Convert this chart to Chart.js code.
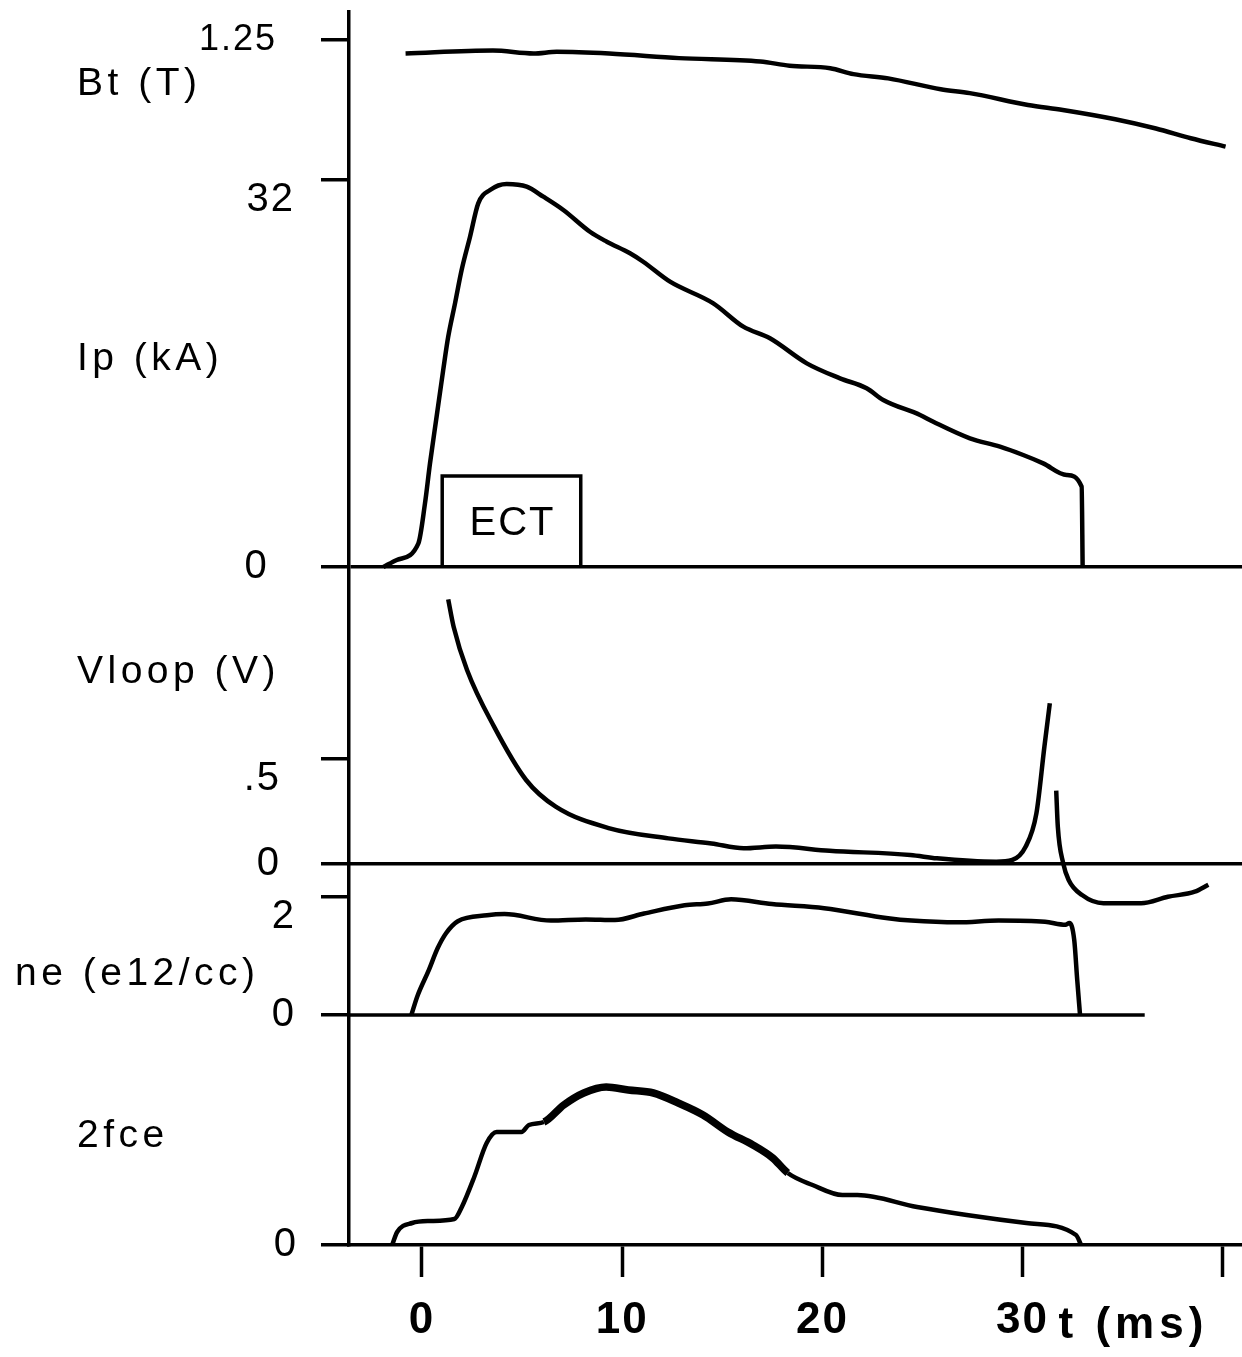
<!DOCTYPE html>
<html>
<head>
<meta charset="utf-8">
<script src="https://cdn.jsdelivr.net/npm/chart.js@4.4.1/dist/chart.umd.min.js"></script>
<style>
  html, body { margin: 0; padding: 0; background: #ffffff; }
  #wrap { width: 1242px; height: 1357px; }
</style>
</head>
<body>
<div id="wrap"><canvas id="c" width="1242" height="1357"></canvas></div>
<script>
// ---- data (time in ms) ----
const tBt = [-0.82, 3.54, 5.57, 6.73, 9.35, 12.84, 16.90, 18.36, 20.39, 21.55, 23.29, 25.91, 27.36, 30.27, 32.01, 34.63, 36.66, 38.40, 40.14];
const bt  = [1.218, 1.225, 1.218, 1.222, 1.218, 1.207, 1.199, 1.189, 1.183, 1.169, 1.159, 1.133, 1.124, 1.096, 1.084, 1.062, 1.040, 1.017, 0.997];

const tIp = [-1.93, -1.26, -0.18, 0.15, 0.40, 0.73, 1.06, 1.31, 1.65, 1.98, 2.40, 2.81, 3.40, 4.23, 5.23, 6.06, 7.06, 8.39, 9.23, 10.39, 11.05, 12.39, 14.55, 16.05, 17.38, 19.22, 20.88, 22.21, 23.04, 24.88, 25.54, 27.37, 28.87, 30.03, 31.03, 32.20, 32.95, 33.00];
const ip  = [0, 0.58, 1.96, 5.27, 8.57, 12.43, 16.29, 19.04, 21.80, 24.56, 27.31, 30.07, 31.17, 31.67, 31.45, 30.62, 29.52, 27.72, 26.90, 25.94, 25.24, 23.59, 21.80, 19.87, 18.91, 16.84, 15.60, 14.78, 13.81, 12.57, 12.01, 10.64, 9.95, 9.26, 8.57, 7.61, 6.64, 0];

const tV    = [1.31, 1.58, 2.25, 3.60, 5.20, 6.68, 9.37, 12.31, 14.46, 16.07, 17.68, 20.36, 24.39, 25.72, 28.68, 29.48, 30.15, 30.69, 31.09, 31.36, 31.50, 31.68, 31.76, 32.03, 32.30, 32.97, 34.04, 35.92, 37.26, 38.60, 39.28];
const vloop = [1.260, 1.130, 0.924, 0.654, 0.400, 0.273, 0.170, 0.122, 0.098, 0.075, 0.083, 0.063, 0.043, 0.027, 0.011, 0.019, 0.082, 0.241, 0.559, 0.765, null, 0.349, 0.178, 0.003, -0.076, -0.148, -0.187, -0.187, -0.156, -0.132, -0.099];

const tNe = [-0.53, -0.24, 0.34, 0.78, 1.21, 1.79, 3.25, 4.12, 6.44, 8.18, 9.64, 11.09, 13.12, 14.28, 15.44, 17.48, 20.09, 23.28, 24.45, 26.77, 28.80, 31.12, 32.14, 32.34, 32.58, 32.73, 32.87];
const ne  = [0, 0.31, 0.76, 1.13, 1.39, 1.59, 1.69, 1.71, 1.60, 1.62, 1.61, 1.72, 1.86, 1.89, 1.96, 1.88, 1.81, 1.64, 1.60, 1.57, 1.60, 1.58, 1.53, 1.56, 1.27, 0.59, 0];
const neBaseT = [-3.6, 36.1];
const neBaseV = [0, 0];

const tF  = [-1.49, -1.24, -0.49, 0.37, 1.62, 1.99, 2.61, 3.23, 3.73, 4.97, 5.34, 6.09, 7.08, 8.08, 9.20, 10.31, 11.56, 12.80, 14.04, 15.28, 16.53, 17.52, 18.27, 19.51, 21.00, 21.75, 24.73, 27.21, 30.19, 32.67, 32.92];
const fce = [0, 0.13, 0.22, 0.24, 0.26, 0.38, 0.68, 1.02, 1.13, 1.13, 1.20, 1.23, 1.40, 1.52, 1.58, 1.55, 1.52, 1.42, 1.30, 1.13, 1.00, 0.87, 0.72, 0.60, 0.50, 0.50, 0.38, 0.30, 0.22, 0.10, 0];

const ectT = [1.01, 1.01, 7.93, 7.93];
const ectI = [0, 7.52, 7.52, 0];

const xTicks = [0, 10, 20, 30, 40];
const xTickLabels = ['0', '10', '20', '30', ''];
const btTicks = [1.25];   const btLabels = ['1.25'];
const ipTicks = [0, 32];  const ipLabels = ['0\u00a0\u00a0', ['', '32']];
const vTicks  = [0, 0.5]; const vLabels  = ['0', ['', '.5']];
const neTicks = [0, 2];   const neLabels = ['0', ['', '2']];
const fTicks  = [0];      const fLabels  = ['0'];

// ---- helpers ----
const pts = (xs, ys) => xs.map((x, i) => ({ x: x, y: ys[i] }));
const FONT = "'Liberation Sans', Arial, Helvetica, sans-serif";

function yAxis(min, max, ticks, labels, pad, size, lh, zeroLine, border) {
  return {
    type: 'linear', position: 'left', display: true, min: min, max: max,
    afterBuildTicks: s => { s.ticks = ticks.map(v => ({ value: v })); },
    afterFit: s => {
      s.width = 0; s.paddingTop = 0; s.paddingBottom = 0;
      s._computeLabelArea = () => null;   // let labels draw left of the zero-width axis box
    },
    ticks: {
      autoSkip: false, padding: pad, color: '#000',
      font: { family: FONT, size: size, lineHeight: lh },
      callback: (v, i) => labels[i]
    },
    grid: {
      display: true, drawOnChartArea: zeroLine, drawTicks: true,
      color: c => (c.tick && c.tick.value === 0) ? '#000' : 'rgba(0,0,0,0)',
      lineWidth: 3.5, tickLength: 28, tickColor: '#000', tickWidth: 3.5
    },
    border: { display: border, color: '#000', width: 3.5 }
  };
}

const lineDs = (data, axis, extra) => Object.assign({
  type: 'line', data: data, yAxisID: axis, borderColor: '#000', borderWidth: 4.5,
  pointRadius: 0, fill: false, cubicInterpolationMode: 'monotone', spanGaps: false
}, extra || {});

const annot = {
  id: 'annot',
  beforeDraw(chart) { chart.ctx.letterSpacing = '2px'; },
  afterDraw(chart) {
    const ctx = chart.ctx;
    const xs = chart.scales.x, yi = chart.scales.yIp;
    ctx.save();
    ctx.fillStyle = '#000';
    ctx.textAlign = 'left';
    ctx.textBaseline = 'alphabetic';
    ctx.font = '39px ' + FONT;
    ctx.letterSpacing = '4.5px';
    [['Bt (T)', 77, 95], ['Ip (kA)', 77, 370], ['Vloop (V)', 77, 683],
     ['ne (e12/cc)', 15, 985], ['2fce', 77, 1147]].forEach(l => ctx.fillText(l[0], l[1], l[2]));
    // ECT label in the centre of its box
    ctx.font = '40px ' + FONT;
    ctx.letterSpacing = '2px';
    ctx.textAlign = 'center';
    ctx.textBaseline = 'middle';
    ctx.fillText('ECT', xs.getPixelForValue((ectT[0] + ectT[2]) / 2) + 1, yi.getPixelForValue(ectI[1] / 2) + 2);
    // axis unit after the "30" tick
    ctx.font = 'bold 44px ' + FONT;
    ctx.letterSpacing = '5px';
    ctx.textAlign = 'left';
    ctx.textBaseline = 'alphabetic';
    ctx.fillText('t (ms)', xs.getPixelForValue(30) + 36, 1338);
    ctx.restore();
  }
};

new Chart(document.getElementById('c'), {
  type: 'line',
  data: {
    datasets: [
      lineDs(pts(tBt, bt), 'yBt'),
      lineDs(pts(tIp, ip), 'yIp'),
      lineDs(pts(ectT, ectI), 'yIp', { borderWidth: 3.5, cubicInterpolationMode: 'default', tension: 0 }),
      lineDs(pts(tV, vloop), 'yV'),
      lineDs(pts(tNe, ne), 'yNe'),
      lineDs(pts(neBaseT, neBaseV), 'yNe', { borderWidth: 3.5 }),
      lineDs(pts(tF, fce), 'yF', {
        segment: { borderWidth: c => (c.p0.parsed.x >= 6 && c.p1.parsed.x <= 18.5) ? 7.5 : 4.5 }
      })
    ]
  },
  options: {
    responsive: false,
    animation: false,
    devicePixelRatio: 1,
    layout: { padding: { left: 349, top: 12, right: 0, bottom: 0 } },
    plugins: { legend: { display: false }, tooltip: { enabled: false }, title: { display: false } },
    events: [],
    scales: {
      x: {
        type: 'linear', position: 'bottom', min: -3.646, max: 40.96,
        afterBuildTicks: s => { s.ticks = xTicks.map(v => ({ value: v })); },
        afterFit: s => { s.height = 112; s.paddingLeft = 0; s.paddingRight = 0; },
        ticks: {
          autoSkip: false, maxRotation: 0, padding: 17, color: '#000',
          font: { family: FONT, size: 44, weight: 'bold' },
          callback: (v, i) => xTickLabels[i]
        },
        grid: { drawOnChartArea: false, drawTicks: true, tickLength: 32, tickColor: '#000', tickWidth: 3.5 },
        border: { display: true, color: '#000', width: 3.5 }
      },
      yBt: yAxis(-1.6082, 1.3164, btTicks, btLabels, 44, 36, 1.2, false, false),
      yIp: yAxis(-56.06, 45.89, ipTicks, ipLabels, 26, 40, 1.0, true, true),
      yV:  yAxis(-1.8143, 4.0571, vTicks, vLabels, 40, 40, 1.0, true, false),
      yNe: yAxis(-3.8983, 17.0, neTicks, neLabels, 25, 40, 1.0, false, false),
      yF:  yAxis(0, 12.33, fTicks, fLabels, 23, 40, 1.2, false, false)
    }
  },
  plugins: [annot]
});
</script>
</body>
</html>
